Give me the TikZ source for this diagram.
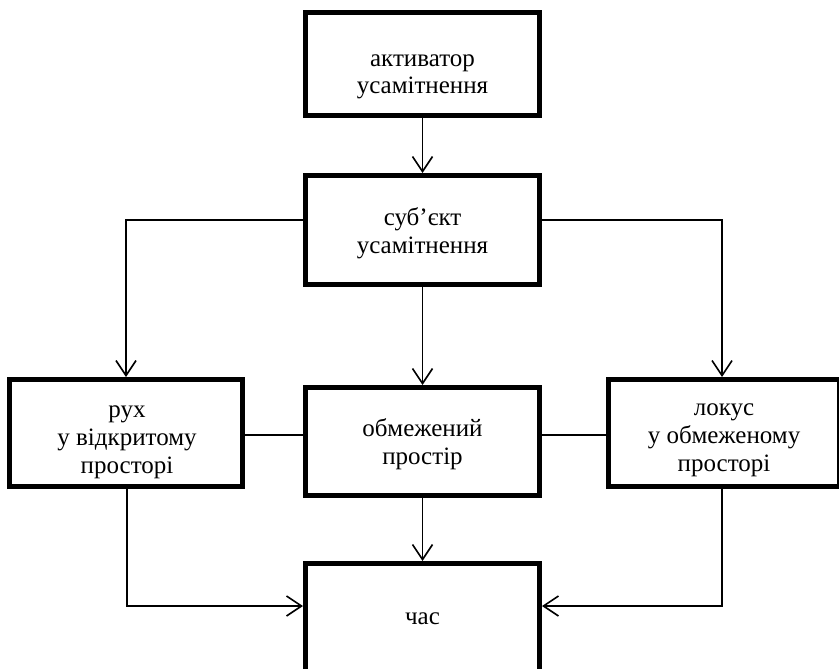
\documentclass[tikz,border=0pt]{standalone}
\usepackage{fontspec}
\setmainfont{Liberation Serif}
\usetikzlibrary{arrows.meta}
\begin{document}
\begin{tikzpicture}[x=1pt,y=-1pt,
  box/.style={draw, line width=5pt, inner sep=0pt, minimum width=234pt},
  lbl/.style={font=\fontsize{25}{28}\selectfont, align=center, inner sep=0pt},
  conn/.style={line width=1.6pt},
  arr/.style={conn, -{Straight Barb[length=15pt,width=20pt,line width=1.6pt]}}]
\useasboundingbox (0,0) rectangle (839,669);
% boxes
\node[box, minimum height=103pt] (act) at (422.5,64) {};
\node[box, minimum height=109pt] (subj) at (422.5,230) {};
\node[box, minimum width=233pt, minimum height=107pt] (left) at (126,433) {};
\node[box, minimum height=108pt] (mid) at (422.5,441.5) {};
\node[box, minimum width=231pt, minimum height=107pt] (right) at (724,433) {};
\node[box, minimum height=109pt] (time) at (422.5,618) {};
% labels
\node[lbl] (tact) at (422.5,74.4) {\strut активатор\\\strut усамітнення};
\node[lbl] (tsubj) at (422.5,233.4) {\strut суб’єкт\\\strut усамітнення};
\node[lbl] (tleft) at (127,439.4) {\strut рух\\\strut у відкритому\\\strut просторі};
\node[lbl] (tmid) at (422.5,444.4) {\strut обмежений\\\strut простір};
\node[lbl] (tright) at (724,437.4) {\strut локус\\\strut у обмеженому\\\strut просторі};
\node[lbl] (ttime) at (422.5,619) {\strut час};
% helper coordinates
\coordinate (sl) at (126,220);
\coordinate (sr) at (722,220);
\coordinate (hrow) at (0,435);
\coordinate (bl) at (127,606);
\coordinate (br) at (722,606);
% connectors
\draw[arr] (act.south) -- (subj.north);
\draw[arr] (subj.west |- sl) -- (sl) -- (sl |- left.north);
\draw[arr] (subj.east |- sr) -- (sr) -- (sr |- right.north);
\draw[arr] (subj.south) -- (mid.north);
\draw[conn] (left.east |- hrow) -- (mid.west |- hrow);
\draw[conn] (mid.east |- hrow) -- (right.west |- hrow);
\draw[arr] (mid.south) -- (time.north);
\draw[arr] (bl |- left.south) -- (bl) -- (time.west |- bl);
\draw[arr] (br |- right.south) -- (br) -- (time.east |- br);
\end{tikzpicture}
\end{document}
